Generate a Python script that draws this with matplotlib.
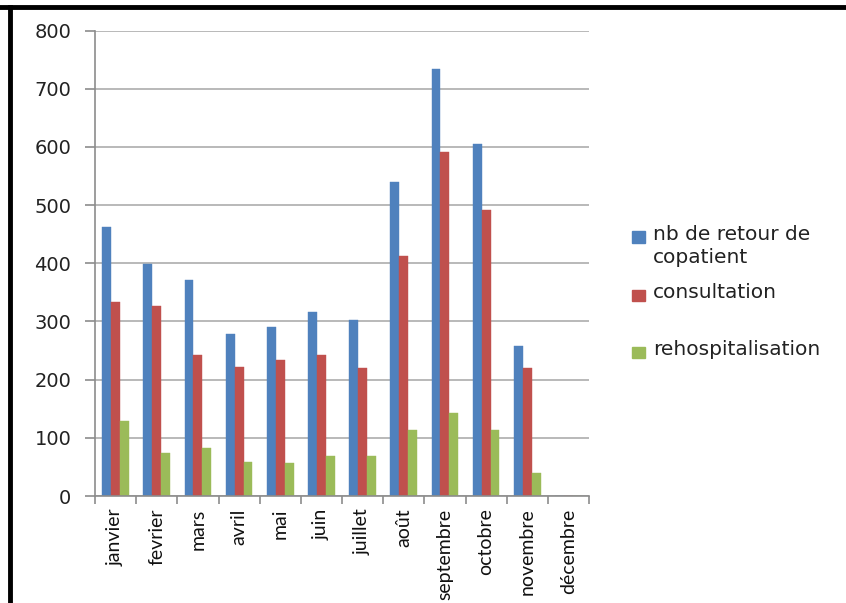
import matplotlib
matplotlib.use("Agg")
import matplotlib.pyplot as plt
from matplotlib.lines import Line2D
from matplotlib.patches import Rectangle
import numpy as np

mois = ["janvier", "fevrier", "mars", "avril", "mai", "juin", "juillet",
        "août", "septembre", "octobre", "novembre", "décembre"]
retour = [462, 398, 371, 279, 291, 316, 302, 540, 733, 605, 257, 0]
consultation = [334, 326, 243, 221, 233, 243, 220, 413, 592, 492, 220, 0]
rehosp = [129, 74, 82, 58, 57, 68, 68, 114, 143, 114, 39, 0]

series = [
    ("nb de retour de\ncopatient", retour, "#4F81BD"),
    ("consultation", consultation, "#C0504D"),
    ("rehospitalisation", rehosp, "#9BBB59"),
]

fig = plt.figure(figsize=(8.46, 6.03), dpi=100)
ax = fig.add_axes([95 / 846, 1 - 496 / 603, 494 / 846, 465.5 / 603])

x = np.arange(len(mois))
w = 0.215
for i, (name, vals, col) in enumerate(series):
    ax.bar(x + (i - 1) * w, vals, w, color=col, edgecolor=col, linewidth=0.3)

ax.set_xlim(-0.5, len(mois) - 0.5)
ax.set_ylim(0, 800)
ax.set_yticks(range(0, 801, 100))
ax.yaxis.grid(True, color="#ADADAD", linewidth=1.2)
ax.set_axisbelow(True)
for s in ["top", "right"]:
    ax.spines[s].set_visible(False)
for s in ["left", "bottom"]:
    ax.spines[s].set_color("#8C8C8C")
    ax.spines[s].set_linewidth(1.2)

ax.tick_params(axis="y", length=7, color="#8C8C8C", width=1.2, pad=10,
               labelsize=14, labelcolor="#222222")
ax.set_xticks(x)
ax.set_xticklabels(mois, rotation=90, fontsize=14, color="#111111",
                   family=["Lato", "DejaVu Sans"])
ax.set_xticks(np.arange(-0.5, len(mois)), minor=True)
ax.tick_params(axis="x", which="major", length=0, pad=9)
ax.tick_params(axis="x", which="minor", length=6, color="#8C8C8C", width=1.2)

# legende
rows = [237, 295, 352]
for (name, vals, col), yy in zip(series, rows):
    fig.patches.append(Rectangle((632 / 846, 1 - (yy + 5.5) / 603), 13 / 846, 11 / 603,
                                 transform=fig.transFigure, color=col))
    fig.text(653 / 846, 1 - (yy - 12) / 603, name, fontsize=14.5, va="top",
             color="#222222", linespacing=1.25)

# cadre
fig.add_artist(Line2D([0, 1], [1 - 7 / 603, 1 - 7 / 603], color="black", linewidth=3.5))
fig.add_artist(Line2D([10 / 846, 10 / 846], [0, 1 - 7 / 603], color="black", linewidth=3.5))

fig.savefig("out.png", dpi=100)
